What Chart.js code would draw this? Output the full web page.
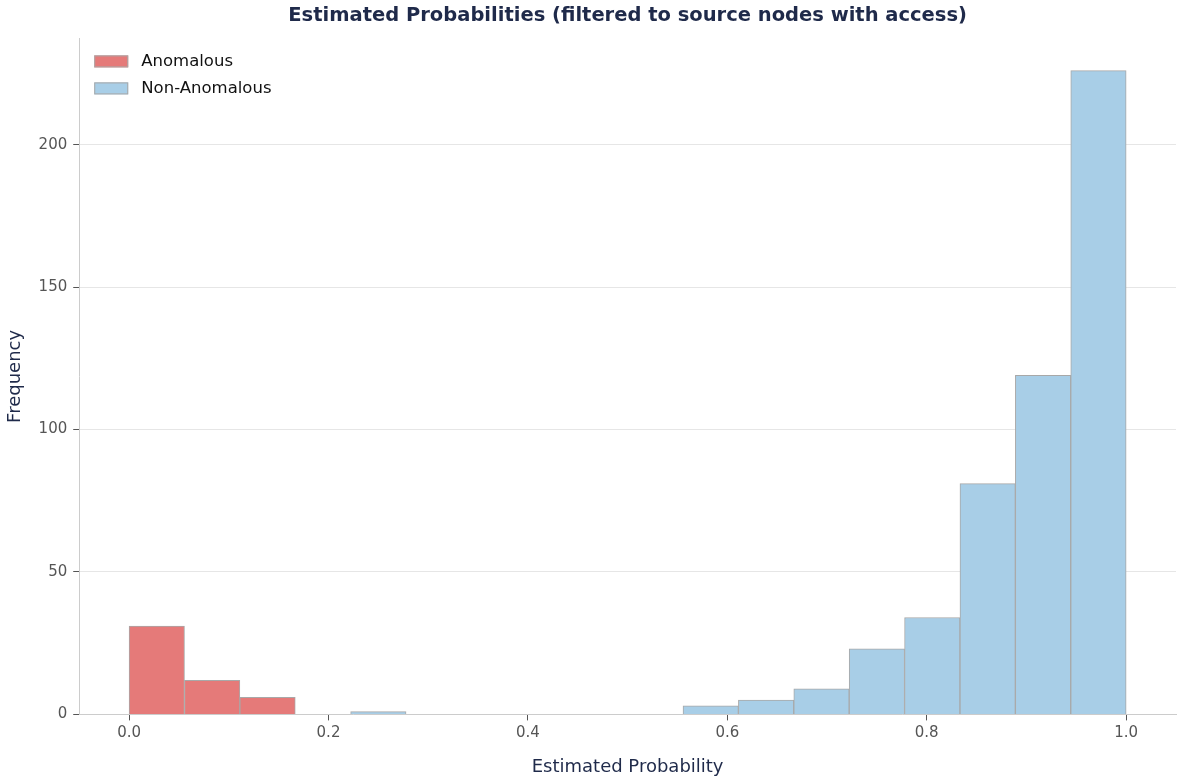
<!DOCTYPE html>
<html>
<head>
<meta charset="utf-8">
<script src="https://cdn.jsdelivr.net/npm/chart.js@4.4.0/dist/chart.umd.min.js"></script>
<style>
  html, body { margin: 0; padding: 0; background: #fff; }
  #wrap { width: 1181px; height: 781px; }
</style>
</head>
<body>
<div id="wrap"><canvas id="histChart" width="1181" height="781"></canvas></div>
<script>
// histogram bins: 18 equal bins over [0, 1]
const binEdgesStart = 0;
const binWidth = 1 / 18;
const nBins = 18;
// counts per bin
const anomalousCounts = [31, 12, 6, 0, 0, 0, 0, 0, 0, 0, 0, 0, 0, 0, 0, 0, 0, 0];
const nonAnomalousCounts = [0, 0, 0, 0, 1, 0, 0, 0, 0, 0, 3, 5, 9, 23, 34, 81, 119, 226];
const seriesNames = ['Anomalous', 'Non-Anomalous'];

const binCenters = [];
for (let i = 0; i < nBins; i++) binCenters.push(binEdgesStart + (i + 0.5) * binWidth);

function toPoints(counts) {
    // skip empty bins so no zero-height outline is drawn
    return counts.map((c, i) => ({ x: binCenters[i], y: c })).filter(p => p.y > 0);
}

// legend drawn inside the plot, top-left (like matplotlib's loc='upper left')
const insideLegend = {
    id: 'insideLegend',
    afterDatasetsDraw(chart) {
        const c = chart.ctx;
        const area = chart.chartArea;
        c.save();
        c.font = '16.5px "DejaVu Sans"';
        c.textBaseline = 'middle';
        chart.data.datasets.forEach((ds, i) => {
            const x = area.left + 15;
            const y = area.top + 17 + i * 27;
            c.fillStyle = ds.backgroundColor;
            c.fillRect(x, y, 34, 12);
            c.strokeStyle = ds.borderColor;
            c.lineWidth = 1;
            c.strokeRect(x + 0.5, y + 0.5, 33, 11);
            c.fillStyle = '#111';
            c.fillText(ds.label, x + 47, y + 6.5);
        });
        c.restore();
    }
};

const navy = '#1f2a4a';
const ctx = document.getElementById('histChart').getContext('2d');
const histChart = new Chart(ctx, {
    type: 'bar',
    data: {
        datasets: [{
            label: seriesNames[0],
            data: toPoints(anomalousCounts),
            backgroundColor: '#e57a79',
            borderColor: '#a8a8a8',
            borderWidth: 1
        }, {
            label: seriesNames[1],
            data: toPoints(nonAnomalousCounts),
            backgroundColor: '#a8cee7',
            borderColor: '#a8a8a8',
            borderWidth: 1
        }]
    },
    plugins: [insideLegend],
    options: {
        responsive: false,
        animation: false,
        grouped: false,
        barPercentage: 1,
        categoryPercentage: 1,
        layout: { padding: { left: 5, right: 5, top: 4, bottom: 3 } },
        plugins: {
            title: {
                display: true,
                fullSize: false,
                text: 'Estimated Probabilities (filtered to source nodes with access)',
                color: navy,
                font: { family: 'DejaVu Sans', size: 19.5, weight: 'bold' },
                padding: { top: 0, bottom: 11 }
            },
            legend: { display: false },
            tooltip: { enabled: false }
        },
        scales: {
            x: {
                type: 'linear',
                min: -0.05,
                max: 1.05,
                offset: false,
                ticks: {
                    stepSize: 0.2,
                    includeBounds: false,
                    color: '#555',
                    font: { family: 'DejaVu Sans', size: 15 },
                    padding: 4,
                    callback: v => Number(v).toFixed(1)
                },
                grid: { offset: false, drawOnChartArea: false, tickLength: 6, tickColor: '#555' },
                border: { color: '#cccccc' },
                title: {
                    display: true,
                    text: 'Estimated Probability',
                    color: navy,
                    font: { family: 'DejaVu Sans', size: 18 },
                    padding: { top: 10, bottom: 0 }
                }
            },
            y: {
                min: 0,
                max: 237.3,
                ticks: {
                    stepSize: 50,
                    includeBounds: false,
                    color: '#555',
                    font: { family: 'DejaVu Sans', size: 15 },
                    padding: 6
                },
                grid: { color: '#e6e6e6', tickLength: 6, tickColor: '#555' },
                border: { color: '#cccccc' },
                title: {
                    display: true,
                    text: 'Frequency',
                    color: navy,
                    font: { family: 'DejaVu Sans', size: 18 },
                    padding: { top: 0, bottom: 6 }
                }
            }
        }
    }
});
</script>
</body>
</html>
